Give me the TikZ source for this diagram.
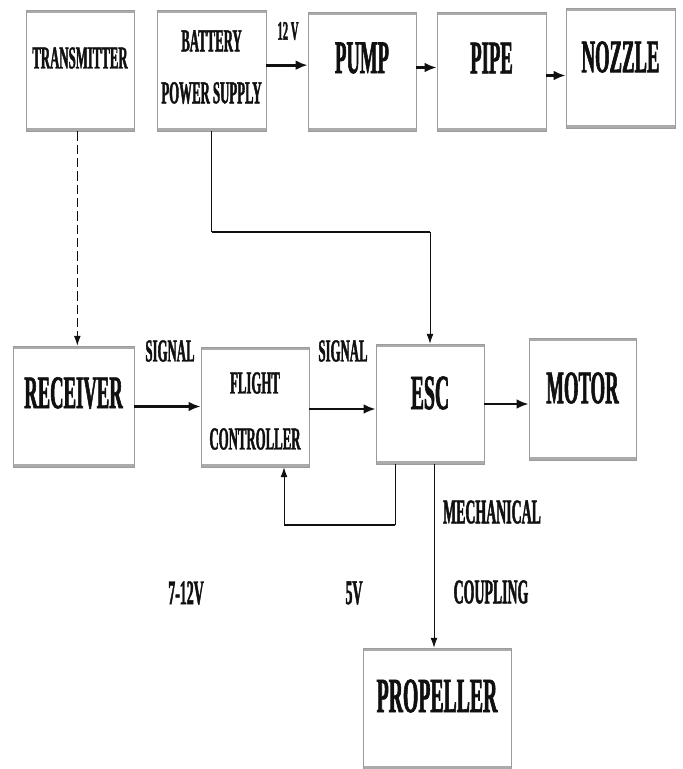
\documentclass[tikz,border=0pt]{standalone}
\usepackage{fontspec}
\usepackage{tikz}
\usetikzlibrary{positioning,arrows.meta,calc}
\newfontfamily\capfont{Liberation Serif Bold}[FakeStretch=0.4,FakeBold=1.2]
\definecolor{bxedge}{HTML}{9C9C9C}
\definecolor{bxband}{HTML}{ABABAB}
\definecolor{inkk}{HTML}{101010}
\tikzset{
  blk/.style={draw=bxedge,fill=white,line width=0.5pt,inner sep=0pt,minimum width=81pt,minimum height=90.75pt,
    path picture={\draw[bxband,line width=4pt] (path picture bounding box.north west)--(path picture bounding box.north east)
      (path picture bounding box.south west)--(path picture bounding box.south east);}},
  bigtxt/.style={font=\capfont\fontsize{35}{35}\selectfont,text=inkk,inner sep=0pt},
  midtxt/.style={font=\capfont\fontsize{24}{24}\selectfont,text=inkk,inner sep=0pt,align=center},
  tagtxt/.style={font=\capfont\fontsize{26}{26}\selectfont,text=inkk,inner sep=0pt},
  lnk/.style={-{Latex[length=3.2mm,width=2.6mm]},line width=2pt,draw=inkk},
  wire/.style={-{Latex[length=2.6mm,width=1.8mm]},line width=0.6pt,draw=inkk},
  bus/.style={line width=2pt,draw=inkk},
}
\begin{document}
\begin{tikzpicture}[x=0.75pt,y=-0.75pt]
  \useasboundingbox[fill=white] (0,0) rectangle (683,769);
  % top row
  \node[blk] (tx) at (80,70.5) {};
  \node[blk,minimum width=81.75pt] (bat) at (211.5,70.5) {};
  \node[blk,minimum height=89.25pt] (pump) at (362,71.5) {};
  \node[blk,minimum width=81.75pt,minimum height=89.25pt] (pipe) at (491.5,71.5) {};
  \node[blk,minimum width=81.75pt,minimum height=90pt] (noz) at (620.5,68) {};
  \node[midtxt,font=\capfont\fontsize{24}{24}\selectfont] (txt) at (80,58) {TRANSMITTER};
  \node[midtxt,font=\capfont\fontsize{24}{39}\selectfont] (batt) at (211.5,67) {BATTERY\\POWER SUPPLY};
  \node[bigtxt] (pumpt) at (362,58) {PUMP};
  \node[bigtxt] (pipet) at (491.5,58) {PIPE};
  \node[bigtxt] (nozt) at (620.5,57) {NOZZLE};
  \node[midtxt,font=\capfont\fontsize{20}{20}\selectfont] (v12) at (288,31) {12 V};
  % middle row
  \node[blk,minimum width=90.75pt] (rx) at (73.5,406.5) {};
  \node[blk,minimum height=90pt] (fc) at (255,407) {};
  \node[blk,minimum height=90pt] (esc) at (430,404) {};
  \node[blk,minimum width=80.25pt,minimum height=91.5pt] (mot) at (582.5,399) {};
  \node[bigtxt] (rxt) at (73.5,393) {RECEIVER};
  \node[midtxt,font=\capfont\fontsize{24}{42}\selectfont] (fct) at (255,411) {FLIGHT\\CONTROLLER};
  \node[bigtxt,font=\capfont\fontsize{37}{37}\selectfont] (esct) at (430,393) {ESC};
  \node[bigtxt] (mott) at (582.5,388) {MOTOR};
  \node[midtxt] (sig1) at (170,351) {SIGNAL};
  \node[midtxt] (sig2) at (343,351) {SIGNAL};
  % bottom
  \node[blk,minimum width=111pt] (prop) at (437,708.5) {};
  \node[bigtxt,font=\capfont\fontsize{37}{37}\selectfont] (propt) at (437,696) {PROPELLER};
  \node[tagtxt] (mech) at (492,512) {MECHANICAL};
  \node[tagtxt] (coup) at (491,592) {COUPLING};
  \node[tagtxt] (v712) at (186,593) {7-12V};
  \node[tagtxt] (v5) at (354,593) {5V};
  % connectors
  \draw[lnk] ([yshift=4pt]bat.east) -- ([yshift=4pt]bat.east -| pump.west);
  \draw[lnk] ([yshift=3pt]pump.east) -- ([yshift=3pt]pump.east -| pipe.west);
  \draw[lnk] ([yshift=-3pt]pipe.east) -- ([yshift=-3pt]pipe.east -| noz.west);
  \draw[wire,dashed,dash pattern=on 7pt off 3pt] ([xshift=-2pt]tx.south) -- ([xshift=-2pt]tx.south |- rx.north);
  \coordinate (busL) at (bat.south |- 0,232);
  \coordinate (busR) at (esc.north |- 0,232);
  \draw[line width=0.6pt,draw=inkk] (bat.south) -- (busL);
  \draw[bus] (busL) -- (busR);
  \draw[wire] (busR) -- (esc.north);
  \draw[lnk] (rx.east) -- (rx.east -| fc.west);
  \draw[lnk] ([yshift=-1.5pt]fc.east) -- ([yshift=-1.5pt]fc.east -| esc.west);
  \draw[lnk] (esc.east) -- (esc.east -| mot.west);
  \coordinate (fbR) at (395,525);
  \coordinate (fbL) at (284,525);
  \draw[line width=0.6pt,draw=inkk] (esc.south -| fbR) -- (fbR);
  \draw[bus] (fbR) -- (fbL);
  \draw[wire] (fbL) -- (fbL |- fc.south);
  \draw[wire] ([xshift=3pt]esc.south) -- ([xshift=3pt]esc.south |- prop.north);
\end{tikzpicture}
\end{document}
